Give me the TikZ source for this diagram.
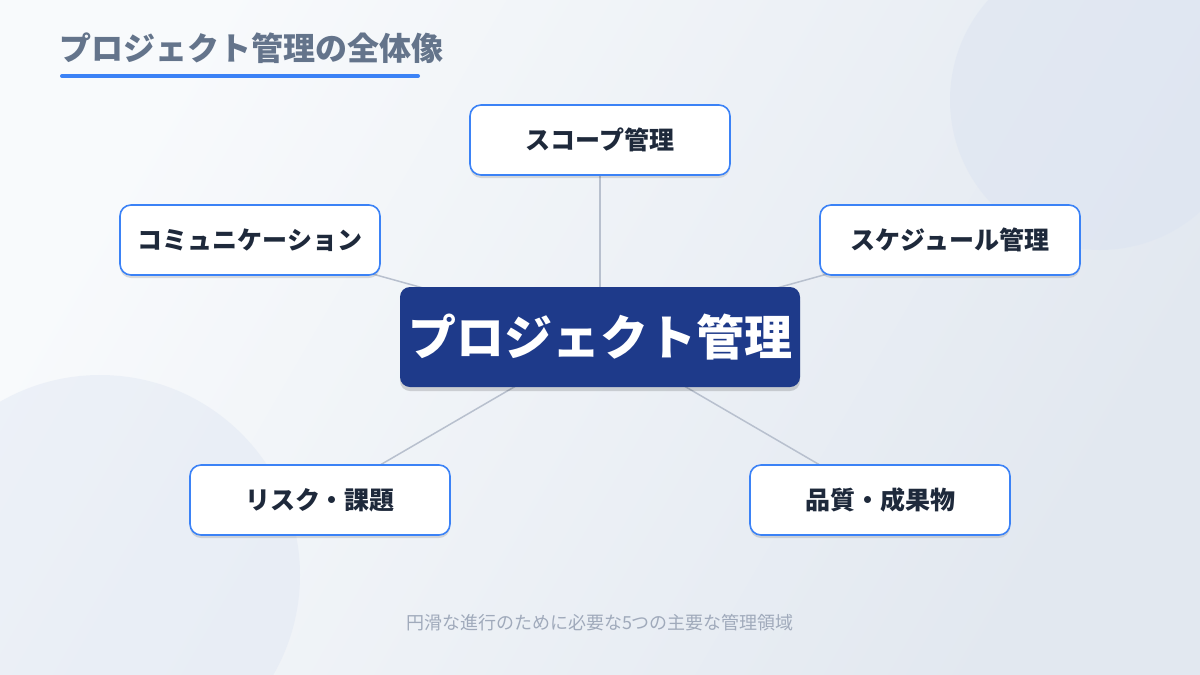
\documentclass[tikz,border=0pt]{standalone}
\usepackage{fontspec}
\setmainfont{Noto Sans CJK JP}
\usetikzlibrary{shadows}
\definecolor{bgA}{HTML}{F8FAFC}
\definecolor{bgB}{HTML}{E2E8F0}
\definecolor{circ}{HTML}{DCE4F2}
\definecolor{titlec}{HTML}{64748B}
\definecolor{accent}{HTML}{3B82F6}
\definecolor{navy}{HTML}{1E3A8A}
\definecolor{ink}{HTML}{1E293B}
\definecolor{linec}{HTML}{B8C0CE}
\definecolor{footc}{HTML}{A0AABB}
\pgfdeclarelayer{bg}
\pgfdeclarelayer{edges}
\pgfsetlayers{bg,edges,main}
\tikzset{
  leaf/.style={draw=accent, line width=1.6pt, fill=white, rounded corners=11pt,
    minimum width=260pt, minimum height=70pt, inner sep=0pt,
    font=\fontsize{25}{29}\selectfont\bfseries, text=ink,
    drop shadow={shadow xshift=0pt, shadow yshift=-3pt, opacity=0.12, fill=black}},
  hub/.style={fill=navy, rounded corners=10pt, minimum width=400pt, minimum height=100pt,
    inner sep=0pt, font=\fontsize{48}{56}\selectfont\bfseries, text=white,
    drop shadow={shadow xshift=0pt, shadow yshift=-4pt, opacity=0.15, fill=black}},
  link/.style={draw=linec, line width=1.5pt}
}
\begin{document}
\begin{tikzpicture}[x=1pt,y=-1pt]
\useasboundingbox (0,0) rectangle (1200,675);
\begin{pgfonlayer}{bg}
\shade[left color=bgA, right color=bgB, shading angle=60] (0,0) rectangle (1200,675);
\fill[circ, opacity=0.5] (1100,100) circle (150);
\begin{scope}
\clip (0,0) rectangle (1200,675);
\fill[circ, opacity=0.4] (100,575) circle (200);
\end{scope}
\end{pgfonlayer}
% title
\node[anchor=west, text=titlec, font=\fontsize{32}{36}\selectfont\bfseries, inner sep=0pt] (title) at (59,48) {プロジェクト管理の全体像};
\draw[accent, line width=4pt, line cap=round] (62,76) -- (418,76);
% nodes
\node[hub] (hub) at (600,337) {プロジェクト管理};
\node[leaf] (scope) at (600,140) {スコープ管理};
\node[leaf] (comm) at (250,240) {コミュニケーション};
\node[leaf] (sched) at (950,240) {スケジュール管理};
\node[leaf] (risk) at (320,500) {リスク・課題};
\node[leaf] (qual) at (880,500) {品質・成果物};
\begin{pgfonlayer}{edges}
\draw[link] (hub.center) -- (scope.center);
\draw[link] (hub.center) -- (comm.center);
\draw[link] (hub.center) -- (sched.center);
\draw[link] (hub.center) -- (risk.center);
\draw[link] (hub.center) -- (qual.center);
\end{pgfonlayer}
% footer
\node[text=footc, font=\fontsize{18}{22}\selectfont, inner sep=0pt] (foot) at (600,623) {円滑な進行のために必要な5つの主要な管理領域};
\end{tikzpicture}
\end{document}
